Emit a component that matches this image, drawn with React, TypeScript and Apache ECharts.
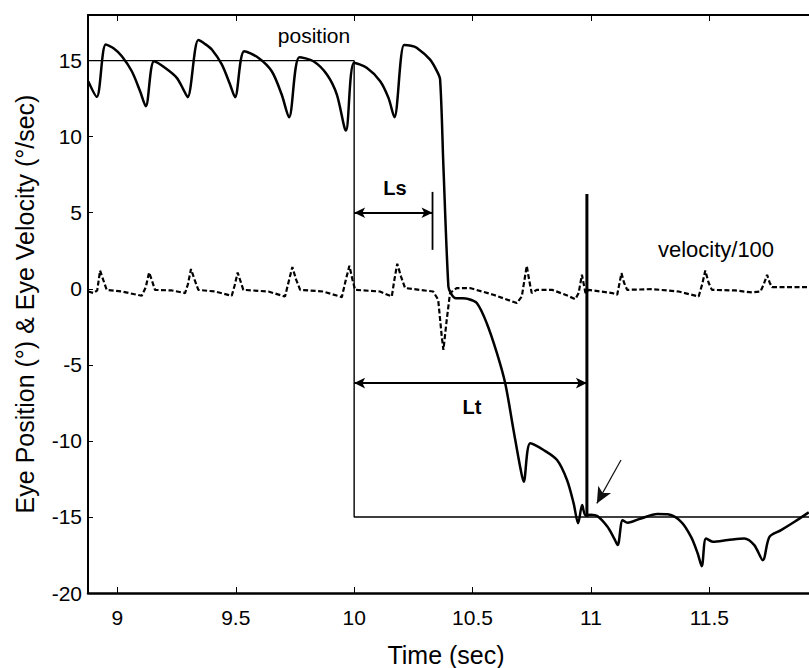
import React, { useEffect, useRef } from "react";
import * as echarts from "echarts";

// Axis ranges and tick values
const X_MIN = 8.876;
const X_MAX = 11.921;
const Y_MIN = -20;
const Y_MAX = 18;
const xTicks = [9, 9.5, 10, 10.5, 11, 11.5];
const yTicks = [-20, -15, -10, -5, 0, 5, 10, 15];

// Eye position (deg)
const posT = [
  8.877, 8.913, 8.951, 8.985, 9.019, 9.061, 9.096, 9.12,
  9.155, 9.201, 9.251, 9.279, 9.297,
  9.342, 9.37, 9.399, 9.441, 9.476, 9.497,
  9.536, 9.595, 9.652, 9.694, 9.725,
  9.769, 9.828, 9.885, 9.927, 9.965,
  10.0, 10.053, 10.11, 10.145, 10.17,
  10.211, 10.24, 10.264, 10.32, 10.35, 10.363,
  10.377, 10.398, 10.408, 10.425, 10.449, 10.48, 10.518, 10.56, 10.603, 10.638, 10.673, 10.701, 10.716,
  10.744, 10.8, 10.857, 10.899, 10.927, 10.946, 10.963, 10.977, 11.0, 11.027, 11.07, 11.098, 11.113,
  11.134, 11.155, 11.211, 11.281, 11.324, 11.381, 11.423, 11.451, 11.468,
  11.486, 11.515, 11.578, 11.648, 11.69, 11.726, 11.754, 11.803, 11.86, 11.92,
];
const posVal = [
  13.65, 12.62, 16.06, 15.8, 15.29, 14.3, 12.99, 12.0,
  14.96, 14.53, 13.87, 13.1, 12.6,
  16.35, 16.1, 15.73, 14.75, 13.43, 12.6,
  15.62, 15.19, 14.3, 12.77, 11.28,
  15.23, 14.96, 14.09, 12.77, 10.4,
  14.86, 14.53, 13.65, 12.55, 11.28,
  16.02, 15.98, 15.85, 15.08, 14.3, 13.76,
  8.05, 0.15, -0.28, -0.6, -0.62, -0.66, -0.94, -2.26, -4.23, -6.21, -9.28, -11.7, -12.69,
  -10.16, -10.6, -11.26, -12.57, -14.11, -15.42, -14.22, -14.88, -14.85, -14.94, -15.65, -16.41, -16.85,
  -15.21, -15.38, -15.1, -14.81, -14.83, -15.32, -16.31, -17.4, -18.24,
  -16.41, -16.63, -16.52, -16.41, -16.85, -17.84, -16.31, -15.87, -15.32, -14.7,
];

// Eye velocity / 100 (deg/sec)
const velT = [
  8.877, 8.9, 8.915, 8.927, 8.94, 8.955, 9.019, 9.103, 9.12, 9.134, 9.147, 9.159,
  9.23, 9.286, 9.298, 9.311, 9.326, 9.342, 9.413, 9.483, 9.495, 9.508, 9.52, 9.532,
  9.638, 9.708, 9.724, 9.739, 9.755, 9.772, 9.87, 9.948, 9.965, 9.98, 9.993, 10.004,
  10.109, 10.159, 10.17, 10.182, 10.198, 10.215, 10.334, 10.355, 10.37, 10.377, 10.391, 10.405,
  10.433, 10.489, 10.588, 10.687, 10.708, 10.729, 10.74, 10.75, 10.771, 10.836, 10.892, 10.934,
  10.948, 10.962, 10.977, 10.991, 11.09, 11.111, 11.129, 11.14, 11.153, 11.258, 11.371, 11.455,
  11.47, 11.483, 11.497, 11.511, 11.609, 11.68, 11.716, 11.73, 11.744, 11.755, 11.765, 11.821, 11.92,
];
const velVal = [
  -0.18, -0.28, -0.1, 1.2, 0.6, -0.07, -0.18, -0.46, 0.1, 1.07, 0.5, -0.07,
  -0.11, -0.28, 0.3, 1.3, 0.6, -0.07, -0.18, -0.46, 0.2, 1.07, 0.5, -0.07,
  -0.18, -0.51, 0.5, 1.43, 0.6, -0.07, -0.18, -0.55, 0.6, 1.51, 0.6, -0.07,
  -0.18, -0.51, 0.6, 1.65, 0.8, 0.05, -0.18, -0.72, -3.14, -4.02, -2.04, -0.28,
  0.05, 0.05, -0.39, -0.94, -0.51, 1.51, 0.5, -0.28, -0.07, -0.07, -0.39, -0.68,
  -0.28, 0.92, -0.28, -0.07, -0.28, -0.39, 1.03, 0.4, -0.07, -0.02, -0.18, -0.51,
  0.3, 1.2, 0.4, -0.07, -0.11, -0.24, -0.18, 0.3, 0.92, 0.4, 0.11, 0.11, 0.11,
];

// Target step
const targetT = [8.876, 10.0, 10.0, 11.921];
const targetVal = [15, 15, -15, -15];

// Annotation segments
const ltMarkerT = [10.983, 10.983];
const ltMarkerVal = [6.23, -15];
const lsMarkerT = [10.331, 10.331];
const lsMarkerVal = [6.37, 2.56];
const lsArrow = [[10.0, 5.0], [10.331, 5.0]];
const ltArrow = [[10.0, -6.2], [10.983, -6.2]];
const pointerArrow = [[11.127, -11.26], [11.025, -14.11]];

const zip = (a: number[], b: number[]) => a.map((v, i) => [v, b[i]]);

export default function App() {
  const ref = useRef<HTMLDivElement>(null);
  useEffect(() => {
    if (!ref.current) return;
    const chart = echarts.init(ref.current, null, { renderer: "svg" });
    const font = "'Liberation Sans', Arial, Helvetica, sans-serif";
    const axisCommon = {
      type: "value",
      splitLine: { show: false },
      axisLine: { show: true, onZero: false, lineStyle: { color: "#000", width: 2.5 } },
    };
    const option: any = {
      animation: false,
      backgroundColor: "#ffffff",
      grid: { left: 88, top: 15, right: 0, bottom: 75, containLabel: false, outerBoundsMode: "none" },
      xAxis: [
        {
          ...axisCommon,
          min: X_MIN,
          max: X_MAX,
          position: "bottom",
          axisTick: { show: true, inside: true, length: 6, customValues: xTicks, lineStyle: { color: "#000", width: 1 } },
          axisLabel: { show: true, customValues: xTicks, color: "#000", fontSize: 21, fontFamily: font, margin: 14 },
        },
        {
          ...axisCommon,
          min: X_MIN,
          max: X_MAX,
          position: "top",
          axisLine: { show: true, onZero: false, lineStyle: { color: "#000", width: 2 } },
          axisTick: { show: true, inside: true, length: 6, customValues: xTicks, lineStyle: { color: "#000", width: 1 } },
          axisLabel: { show: false },
        },
      ],
      yAxis: [
        {
          ...axisCommon,
          min: Y_MIN,
          max: Y_MAX,
          axisLine: { show: true, onZero: false, lineStyle: { color: "#000", width: 2 } },
          axisTick: { show: true, inside: true, length: 5, customValues: yTicks, lineStyle: { color: "#000", width: 1 } },
          axisLabel: { show: true, customValues: yTicks, color: "#000", fontSize: 21, fontFamily: font, margin: 6 },
        },
      ],
      series: [
        {
          name: "target",
          type: "line",
          data: zip(targetT, targetVal),
          symbol: "none",
          lineStyle: { color: "#000", width: 1.4 },
          z: 2,
          markLine: {
            silent: true,
            symbol: ["arrow", "arrow"],
            symbolSize: [8, 11],
            label: { show: false },
            lineStyle: { color: "#000", width: 2, type: "solid" },
            data: [
              [{ coord: lsArrow[0] }, { coord: lsArrow[1] }],
              [{ coord: ltArrow[0] }, { coord: ltArrow[1] }],
            ],
          },
        },
        {
          name: "pointer",
          type: "line",
          data: [],
          symbol: "none",
          markLine: {
            silent: true,
            symbol: ["none", "arrow"],
            symbolSize: [11, 16],
            label: { show: false },
            lineStyle: { color: "#111", width: 1.2, type: "solid" },
            data: [[{ coord: pointerArrow[0] }, { coord: pointerArrow[1] }]],
          },
        },
        {
          name: "position",
          type: "line",
          data: zip(posT, posVal),
          symbol: "none",
          smooth: 0.3,
          lineStyle: { color: "#000", width: 2.5 },
          z: 4,
        },
        {
          name: "velocity/100",
          type: "line",
          data: zip(velT, velVal),
          symbol: "none",
          lineStyle: { color: "#000", width: 2.2, type: [5, 2.5] },
          z: 3,
        },
        {
          name: "Lt marker",
          type: "line",
          data: zip(ltMarkerT, ltMarkerVal),
          symbol: "none",
          lineStyle: { color: "#000", width: 3 },
          z: 5,
        },
        {
          name: "Ls marker",
          type: "line",
          data: zip(lsMarkerT, lsMarkerVal),
          symbol: "none",
          lineStyle: { color: "#000", width: 1.8 },
          z: 5,
        },
      ],
      graphic: [
        { type: "text", x: 314, y: 35, style: { text: "position", fontSize: 21, fontFamily: font, fill: "#000", textAlign: "center", textVerticalAlign: "middle" } },
        { type: "text", x: 395, y: 188, style: { text: "Ls", fontSize: 20, fontWeight: "bold", fontFamily: font, fill: "#000", textAlign: "center", textVerticalAlign: "middle" } },
        { type: "text", x: 716, y: 249, style: { text: "velocity/100", fontSize: 22, fontFamily: font, fill: "#000", textAlign: "center", textVerticalAlign: "middle" } },
        { type: "text", x: 472, y: 407, style: { text: "Lt", fontSize: 20, fontWeight: "bold", fontFamily: font, fill: "#000", textAlign: "center", textVerticalAlign: "middle" } },
        { type: "text", x: 446, y: 655, style: { text: "Time (sec)", fontSize: 25, fontFamily: font, fill: "#000", textAlign: "center", textVerticalAlign: "middle" } },
        { type: "text", x: 25, y: 304, rotation: Math.PI / 2, style: { text: "Eye Position (°) & Eye Velocity (°/sec)", fontSize: 25, fontFamily: font, fill: "#000", textAlign: "center", textVerticalAlign: "middle" } },
      ],
    };
    chart.setOption(option);
    return () => chart.dispose();
  }, []);
  return (
    <div
      ref={ref}
      style={{ position: "fixed", left: 0, top: 0, width: 809, height: 668, background: "#fff" }}
    />
  );
}
